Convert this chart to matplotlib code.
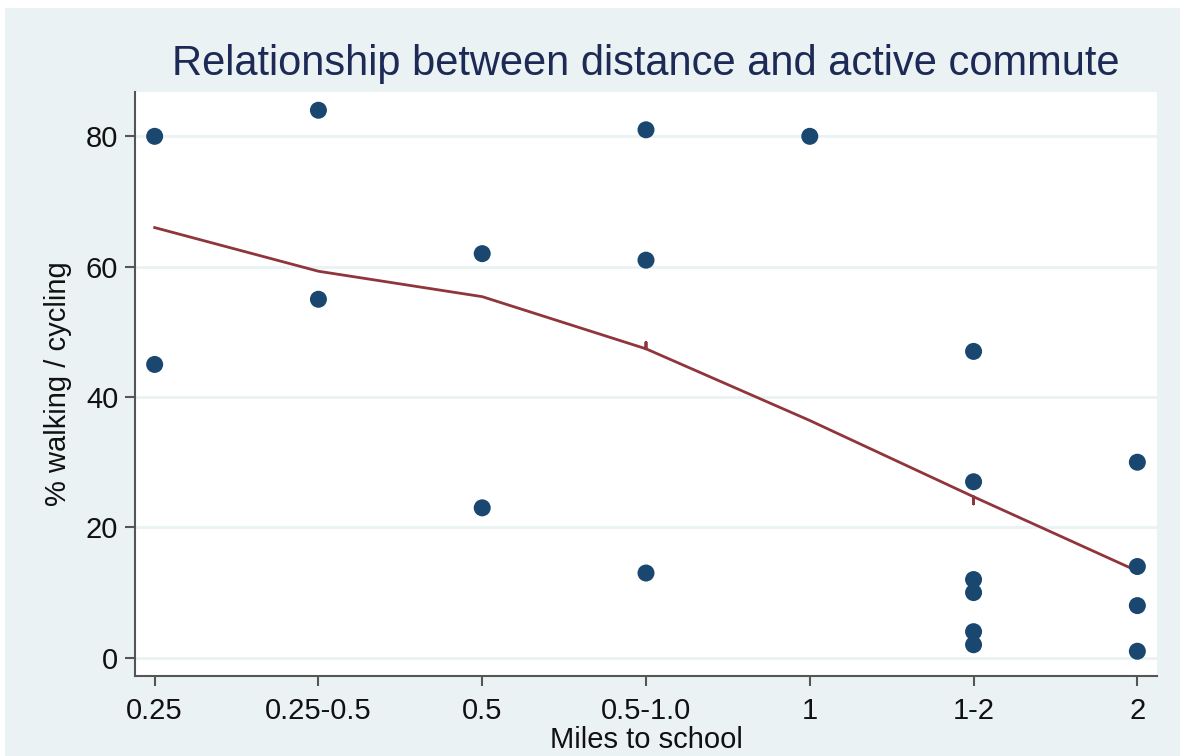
import matplotlib
matplotlib.use('Agg')
import matplotlib.pyplot as plt
from matplotlib.patches import Rectangle

plt.rcParams['font.family'] = ['Liberation Sans', 'DejaVu Sans']

categories = ['0.25', '0.25-0.5', '0.5', '0.5-1.0', '1', '1-2', '2']

# scatter points: category index and % walking / cycling
pt_cat = [0, 0, 1, 1, 2, 2, 3, 3, 3, 4, 5, 5, 5, 5, 5, 5, 6, 6, 6, 6]
pt_pct = [80, 45, 84, 55, 62, 23, 81, 61, 13, 80, 47, 27, 12, 10, 4, 2, 30, 14, 8, 1]

# smoothed line (with the small tie glitches at 0.5-1.0 and 1-2)
fit_cat = [0, 1, 2, 3, 3, 3, 4, 5, 5, 5, 6]
fit_pct = [66.0, 59.3, 55.4, 47.4, 48.4, 47.4, 36.4, 24.7, 23.6, 24.7, 13.3]

bg = '#EAF2F3'
navy = '#1A476F'
maroon = '#90353B'

fig = plt.figure(figsize=(11.84, 7.56), dpi=100)
fig.patch.set_facecolor('white')
fig.patches.append(Rectangle((5/1184, 0), 1175/1184, 1 - 8/756,
                             transform=fig.transFigure, facecolor=bg,
                             edgecolor='none', zorder=-10))

ax = fig.add_axes([135/1184, 1 - 676/756, (1157 - 135)/1184, (676 - 92)/756])
ax.set_facecolor('white')

ax.plot(fit_cat, fit_pct, color=maroon, lw=2, zorder=2)
ax.scatter(pt_cat, pt_pct, s=150, color=navy, edgecolors='none', zorder=3)

ax.set_xlim(-0.12, 6.12)
ax.set_ylim(-2.8, 86.8)
ax.set_xticks(range(len(categories)))
ax.set_xticklabels(categories)
ax.set_yticks([0, 20, 40, 60, 80])
ax.yaxis.grid(True, color=bg, lw=2)
ax.set_axisbelow(True)

for s in ['top', 'right']:
    ax.spines[s].set_visible(False)
for s in ['left', 'bottom']:
    ax.spines[s].set_color('#555555')
    ax.spines[s].set_linewidth(1.5)

ax.tick_params(axis='both', length=7, width=1.5, color='#555555',
               labelsize=21, labelcolor='#111111')
ax.tick_params(axis='y', pad=5)
ax.tick_params(axis='x', pad=8)

ax.set_xlabel('Miles to school', fontsize=21, color='#111111', labelpad=1)
ax.set_ylabel('% walking / cycling', fontsize=21, color='#111111', labelpad=10)
ax.set_title('Relationship between distance and active commute',
             fontsize=30, color='#1C2A55', pad=12)

fig.savefig('out.png', dpi=100, facecolor=fig.get_facecolor())
